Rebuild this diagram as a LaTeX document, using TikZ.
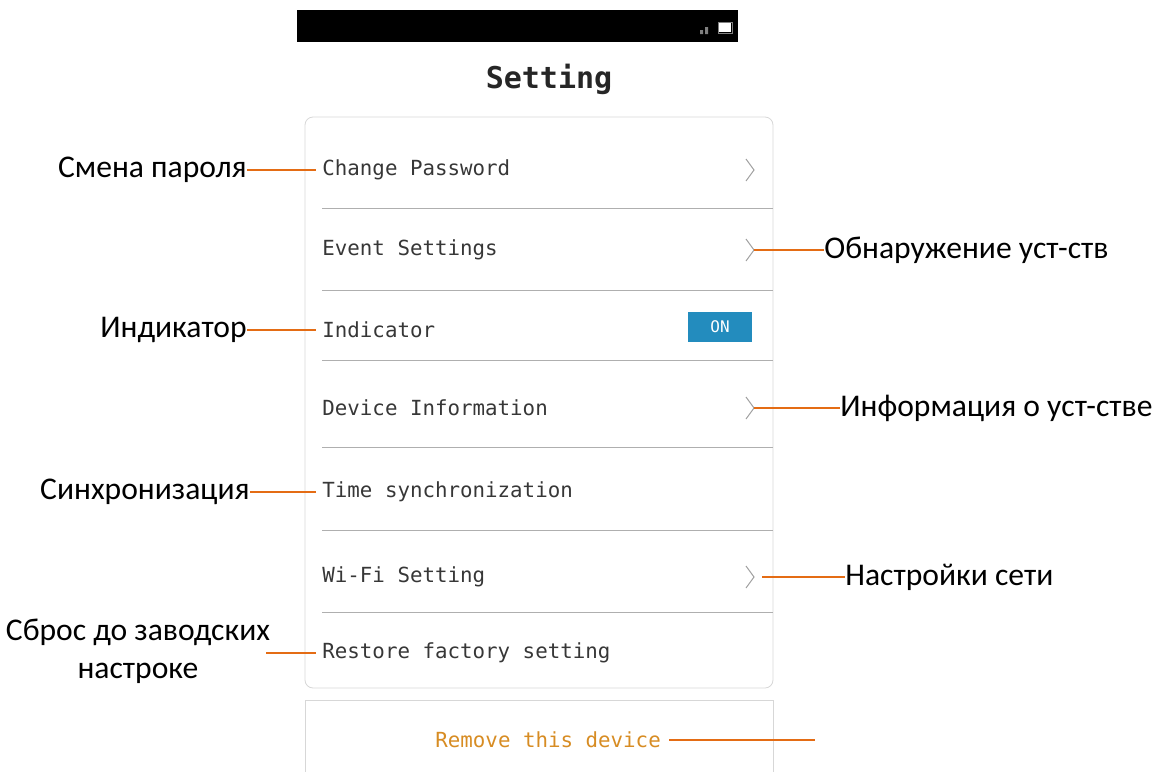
\documentclass[tikz,border=0pt]{standalone}
\usepackage{fontspec}
\setmainfont{Carlito}
\newfontfamily\appfont{DejaVu Sans Mono}
\definecolor{lineorange}{RGB}{228,108,20}
\definecolor{itemgray}{RGB}{55,55,55}
\definecolor{sepgray}{RGB}{175,175,175}
\definecolor{framegray}{RGB}{215,215,215}
\definecolor{chevgray}{RGB}{160,160,160}
\definecolor{toggleblue}{RGB}{35,140,190}
\definecolor{removegold}{RGB}{215,140,35}

\begin{document}
\begin{tikzpicture}[x=0.5pt,y=-0.5pt]
        \tikzstyle{every node}+=[inner sep=0pt]
        \tikzstyle{note}=[font=\fontsize{15.8}{19}\selectfont, text=black]
        \tikzstyle{item}=[font=\appfont\fontsize{10.4}{12}\selectfont, text=itemgray, anchor=west]
        \tikzstyle{pointer}=[draw=lineorange, line width=1.1pt]
        \tikzstyle{sep}=[draw=sepgray, line width=0.5pt]
        \tikzstyle{chev}=[draw=chevgray, line width=0.5pt]
        \useasboundingbox (0,0) rectangle (1153,772);

        \fill[black] (297,10) rectangle (738,42);
        \fill[gray] (700,30) rectangle (703,34) (705,27) rectangle (708,34);
        \draw[gray, line width=0.4pt] (718,22) rectangle (732,33);
        \fill[white] (719,23) rectangle (731,32);
        \node[font=\appfont\bfseries\fontsize{15}{18}\selectfont, text=black!85] (title) at (549,79) {Setting};

        \draw[framegray, rounded corners=4pt] (305,117) rectangle (773,688);
        \draw[framegray] (305,700) -- (773,700) -- (773,772) (305,772) -- (305,700);
        \draw[sep] (322,208) -- (773,208);
        \draw[sep] (322,290) -- (773,290);
        \draw[sep] (322,360) -- (773,360);
        \draw[sep] (322,447) -- (773,447);
        \draw[sep] (322,530) -- (773,530);
        \draw[sep] (322,612) -- (773,612);

        \node[item] (cp) at (322,170) {Change Password};
        \node[item] (es) at (322,250) {Event Settings};
        \node[item] (ind) at (322,330) {Indicator};
        \node[item] (di) at (322,408) {Device Information};
        \node[item] (ts) at (322,492) {Time synchronization};
        \node[item] (wf) at (322,577) {Wi-Fi Setting};
        \node[item] (rf) at (322,653) {Restore factory setting};
        \node[item, text=removegold] (rm) at (435,740) {Remove this device};

        \node[fill=toggleblue, minimum width=32pt, minimum height=15pt, text=white,
              font=\appfont\fontsize{8}{9}\selectfont] (tog) at (720,327) {ON};

        \coordinate (chcp) at (754,170);
        \coordinate (ches) at (754,250);
        \coordinate (chdi) at (754,408);
        \coordinate (chwf) at (754,577);
        \foreach \c in {chcp,ches,chdi,chwf}
          \draw[chev] ([shift={(-8,-11)}]\c) -- (\c) -- ([shift={(-8,11)}]\c);

        \node[note, anchor=east] (cpnote) at (247,170) {Смена пароля};
        \node[note, anchor=east] (indnote) at (247,330) {Индикатор};
        \node[note, anchor=east] (tsnote) at (250,492) {Синхронизация};
        \node[note, align=center] (rfnote) at (138,651) {Сброс до заводских\\настроке};
        \node[note, anchor=west] (esnote) at (824,250) {Обнаружение уст-ств};
        \node[note, anchor=west] (dinote) at (840,408) {Информация о уст-стве};
        \node[note, anchor=west] (wfnote) at (845,577) {Настройки сети};
        \coordinate (rmend) at (815,740);

        \draw[pointer] (cpnote.east) -- ([xshift=-3]cp.west);
        \draw[pointer] (indnote.east) -- ([xshift=-3]ind.west);
        \draw[pointer] (tsnote.east) -- ([xshift=-3]ts.west);
        \draw[pointer] ([xshift=-2]rfnote.east |- rf.west) -- ([xshift=-3]rf.west);
        \draw[pointer] (ches) -- (esnote.west);
        \draw[pointer] (chdi) -- (dinote.west);
        \draw[pointer] ([xshift=4]chwf) -- (wfnote.west);
        \draw[pointer] ([xshift=4]rm.east) -- (rmend);
      \end{tikzpicture}
\end{document}
